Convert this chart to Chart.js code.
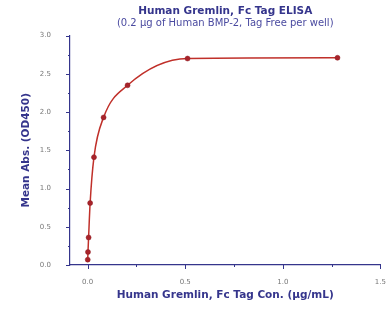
<!DOCTYPE html>
<html>
<head>
<meta charset="utf-8">
<script src="https://cdn.jsdelivr.net/npm/chart.js@4/dist/chart.umd.min.js"></script>
<style>
  html, body { margin: 0; padding: 0; background: #fff; }
  #wrap { width: 391px; height: 312px; }
</style>
</head>
<body>
<div id="wrap"><canvas id="elisaChart" width="391" height="312"></canvas></div>
<script>
// concentrations (ug/mL) and mean OD450
var conc = [0.00084, 0.0021, 0.00524, 0.01311, 0.03277, 0.08192, 0.2048, 0.512, 1.28];
var absorb = [0.07, 0.17, 0.36, 0.81, 1.41, 1.93, 2.35, 2.70, 2.71];
var xTicks = [0.0, 0.5, 1.0, 1.5];
var yTicks = [0.0, 0.5, 1.0, 1.5, 2.0, 2.5, 3.0];

var navy = '#35358c';
var fontName = '"DejaVu Sans", sans-serif';

var points = conc.map(function (c, i) { return { x: c, y: absorb[i] }; });

// draw major + minor tick marks outside the axes
var tickMarks = {
  id: 'tickMarks',
  afterDraw: function (chart) {
    var ctx = chart.ctx;
    var xs = chart.scales.x, ys = chart.scales.y;
    ctx.save();
    ctx.strokeStyle = navy;
    ctx.lineWidth = 1;
    xs.ticks.forEach(function (t) {
      var px = Math.round(xs.getPixelForValue(t.value)) + 0.5;
      var major = xTicks.some(function (v) { return Math.abs(v - t.value) < 1e-6; });
      ctx.beginPath();
      ctx.moveTo(px, ys.bottom);
      ctx.lineTo(px, ys.bottom + (major ? 4 : 2));
      ctx.stroke();
    });
    ys.ticks.forEach(function (t) {
      var py = Math.round(ys.getPixelForValue(t.value)) + 0.5;
      var major = yTicks.some(function (v) { return Math.abs(v - t.value) < 1e-6; });
      ctx.beginPath();
      ctx.moveTo(xs.left, py);
      ctx.lineTo(xs.left - (major ? 4 : 2), py);
      ctx.stroke();
    });
    ctx.restore();
  }
};

var ctx = document.getElementById('elisaChart').getContext('2d');
var chart = new Chart(ctx, {
  type: 'scatter',
  data: {
    datasets: [{
      data: points,
      showLine: true,
      cubicInterpolationMode: 'monotone',
      borderColor: '#c0302a',
      borderWidth: 1.5,
      pointBackgroundColor: '#a8232a',
      pointBorderColor: '#8e1f24',
      pointRadius: 2.5,
      pointBorderWidth: 0.5
    }]
  },
  options: {
    responsive: false,
    animation: false,
    layout: { padding: { left: 0, right: 2, top: 5, bottom: 0 } },
    plugins: {
      legend: { display: false },
      tooltip: { enabled: false },
      title: {
        display: true,
        fullSize: false,
        text: 'Human Gremlin, Fc Tag ELISA',
        color: navy,
        font: { family: fontName, size: 10.5, weight: 'bold' },
        padding: { top: 0, bottom: 0 }
      },
      subtitle: {
        display: true,
        fullSize: false,
        text: '(0.2 μg of Human BMP-2, Tag Free per well)',
        color: '#4a4aa0',
        font: { family: fontName, size: 10 },
        padding: { top: 0, bottom: 6 }
      }
    },
    scales: {
      x: {
        type: 'linear',
        min: -0.09,
        max: 1.5,
        afterBuildTicks: function (scale) {
          var t = [];
          for (var v = 0; v <= 1.5001; v += 0.25) t.push({ value: Math.round(v * 100) / 100 });
          scale.ticks = t;
        },
        afterFit: function (scale) { scale.height = 47; },
        grid: { display: false },
        border: { display: true, color: navy, width: 1.2 },
        ticks: {
          color: '#777',
          font: { family: fontName, size: 7 },
          padding: 5,
          maxRotation: 0,
          callback: function (v) {
            return xTicks.indexOf(Math.round(v * 100) / 100) >= 0 ? v.toFixed(1) : '';
          }
        },
        title: {
          display: true,
          text: 'Human Gremlin, Fc Tag Con. (μg/mL)',
          color: navy,
          font: { family: fontName, size: 10.5, weight: 'bold' },
          padding: { top: 6, bottom: 10 }
        }
      },
      y: {
        type: 'linear',
        min: 0,
        max: 3.0,
        afterBuildTicks: function (scale) {
          var t = [];
          for (var v = 0; v <= 3.0001; v += 0.25) t.push({ value: Math.round(v * 100) / 100 });
          scale.ticks = t;
        },
        afterFit: function (scale) { scale.width = 70; },
        grid: { display: false },
        border: { display: true, color: navy, width: 1.2 },
        ticks: {
          color: '#777',
          font: { family: fontName, size: 7 },
          padding: 11,
          callback: function (v) {
            return yTicks.indexOf(Math.round(v * 100) / 100) >= 0 ? v.toFixed(1) : '';
          }
        },
        title: {
          display: true,
          text: 'Mean Abs. (OD450)',
          color: navy,
          font: { family: fontName, size: 10.5, weight: 'bold' },
          padding: { top: 20, bottom: 0 }
        }
      }
    }
  },
  plugins: [tickMarks]
});
</script>
</body>
</html>
